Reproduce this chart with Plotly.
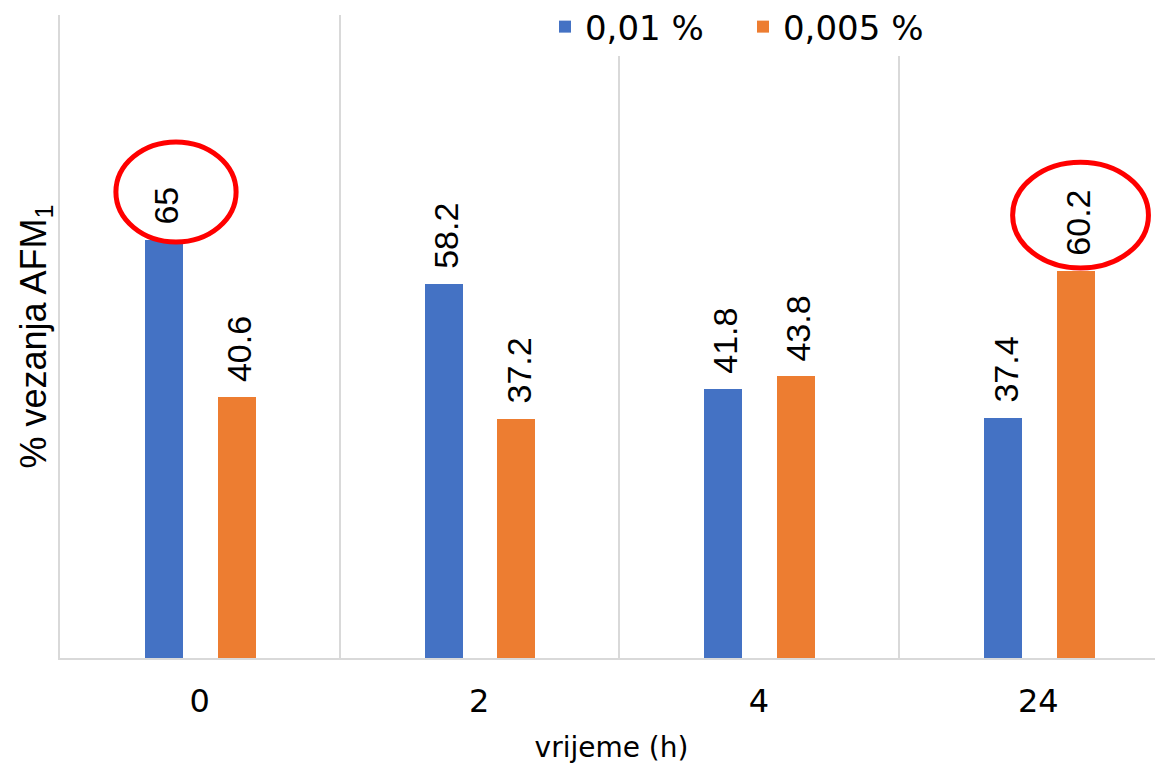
import plotly.graph_objects as go

# ---- data ----
categories = ["0", "2", "4", "24"]
series_names = ["0,01 %", "0,005 %"]
values_001 = [65, 58.2, 41.8, 37.4]
values_0005 = [40.6, 37.2, 43.8, 60.2]
x_title = "vrijeme (h)"
y_title = "% vezanja AFM<sub>1</sub>"

# ---- style ----
colors = ["#4472C4", "#ED7D31"]
bar_width = 0.136
offsets = [-0.195, 0.065]
grid_color = "#D9D9D9"
label_font = dict(family="Liberation Sans, Arial", size=34, color="#000000")
axis_font = "DejaVu Sans"

idx = list(range(len(categories)))
fig = go.Figure()
for name, vals, col, off in zip(series_names, [values_001, values_0005], colors, offsets):
    fig.add_trace(go.Bar(
        x=idx, y=vals, name=name, width=bar_width, offset=off,
        marker=dict(color=col, line=dict(width=0)),
    ))

# data labels (rotated, above bars)
annotations = []
for vals, off in zip([values_001, values_0005], offsets):
    for i, v in zip(idx, vals):
        annotations.append(dict(
            x=i + off + bar_width / 2 + 0.008, y=v, xref="x", yref="y",
            text=f"{v:g}", showarrow=False, textangle=-90,
            yanchor="bottom", xanchor="center", yshift=13,
            font=label_font,
        ))

# red highlight ellipses around two labels: (series index, category index, dx0, dx1, dy0, dy1)
highlights = [(0, 0, -0.105, 0.325, -0.3, 15.25), (1, 3, -0.157, 0.329, 0.45, 16.9)]
shapes = []
for s, i, dx0, dx1, dy0, dy1 in highlights:
    vals = [values_001, values_0005][s]
    base_x = i + offsets[s]
    shapes.append(dict(
        type="circle", xref="x", yref="y",
        x0=base_x + dx0, x1=base_x + dx1, y0=vals[i] + dy0, y1=vals[i] + dy1,
        line=dict(color="#FF0000", width=5), fillcolor="rgba(0,0,0,0)", layer="above",
    ))

fig.update_layout(
    width=1155, height=757,
    margin=dict(l=52, r=0, t=7, b=107, autoexpand=False),
    paper_bgcolor="white", plot_bgcolor="white",
    showlegend=True,
    legend=dict(
        orientation="h", x=0.4397, xanchor="left", y=1.0264, yanchor="top",
        font=dict(family=axis_font, size=34, color="#000000"),
        bgcolor="white", entrywidth=153, entrywidthmode="pixels",
        traceorder="normal",
    ),
    annotations=annotations,
    shapes=shapes,
    bargap=0,
)
fig.update_xaxes(
    type="linear", range=[-0.5, 3.446], automargin=False,
    tickmode="array", tickvals=idx, ticktext=categories,
    tickfont=dict(family=axis_font, size=32, color="#000000"),
    ticks="", showgrid=False,
    minor=dict(tickmode="array", tickvals=[-0.5, 0.5, 1.5, 2.5, 3.5], showgrid=True,
               gridcolor=grid_color, gridwidth=1.5, ticks=""),
    showline=True, linecolor=grid_color, linewidth=2,
    zeroline=False,
    title=dict(text=x_title, font=dict(family=axis_font, size=28, color="#000000"), standoff=18),
    ticklabelstandoff=14,
)
fig.update_yaxes(
    range=[0, 100], automargin=False, showticklabels=False, ticks="", showgrid=False, zeroline=False,
    showline=True, linecolor=grid_color, linewidth=1.5,
    title=dict(text=y_title, font=dict(family="Liberation Sans, Arial", size=36, color="#000000"), standoff=1),
)

fig.write_html("out.html")
